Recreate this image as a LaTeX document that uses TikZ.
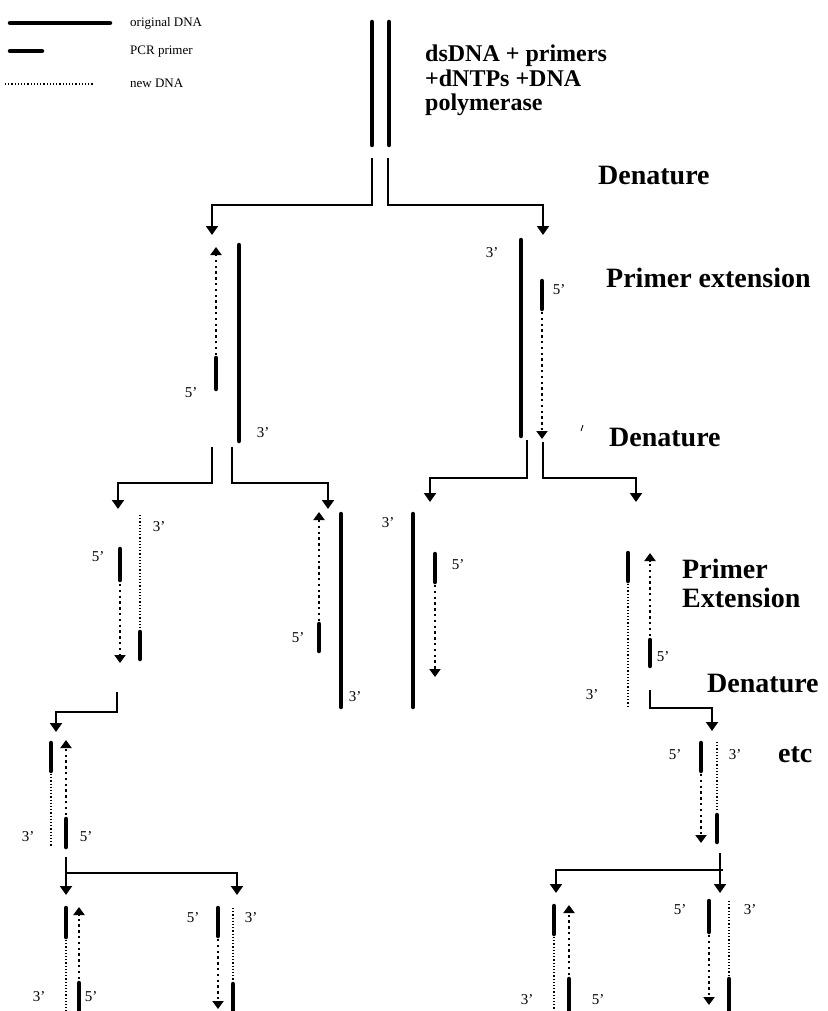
\documentclass[tikz,border=0pt]{standalone}
\usepackage{fontspec}
\setmainfont{Liberation Serif}
\usetikzlibrary{arrows.meta}
\newcommand\steplbl{\fontsize{28}{31}\selectfont\bfseries}
\newcommand\toplbl{\fontsize{24}{27}\selectfont\bfseries}
\newcommand\primelbl{\fontsize{15}{17}\selectfont}
\newcommand\keylbl{\fontsize{13}{15}\selectfont}
\begin{document}
\begin{tikzpicture}[x=1pt,y=-1pt,
  strand/.style={line width=4.5pt, line cap=round},
  primer/.style={line width=4.5pt, line cap=round},
  newdna/.style={line width=1.1pt, dash pattern=on 1.1pt off 2.1pt},
  ext/.style={line width=2.4pt, dash pattern=on 2.4pt off 3.4pt,
    -{Triangle[width=11pt,length=8pt]}},
  conn/.style={line width=2pt, -{Triangle[width=12pt,length=9pt]}},
  txt/.style={inner sep=0pt, anchor=base west},
  tag/.style={inner sep=0pt, font=\primelbl}]
\path[use as bounding box] (0,0) rectangle (827,1011);

% key
\draw[strand] (10,23) -- (110,23);
\draw[primer] (10,51) -- (42,51);
\draw[newdna] (5,84) -- (93,84);
\node[txt, font=\keylbl] (keyA) at (130,27) {original DNA};
\node[txt, font=\keylbl] (keyB) at (130,55) {PCR primer};
\node[txt, font=\keylbl] (keyC) at (130,88) {new DNA};

% starting double strand
\draw[strand] (372,22) -- (372,145);
\draw[strand] (389,22) -- (389,145);
\node[txt, font=\toplbl] (mix1) at (425,62) {dsDNA + primers};
\node[txt, font=\toplbl] (mix2) at (425,87) {+dNTPs +DNA};
\node[txt, font=\toplbl] (mix3) at (425,111) {polymerase};

% step labels
\node[txt, font=\steplbl] (den1) at (598,185) {Denature};
\node[txt, font=\steplbl] (ext1) at (606,287) {Primer extension};
\node[txt, font=\steplbl] (den2) at (609,446) {Denature};
\node[txt, font=\steplbl] (ext2a) at (682,578) {Primer};
\node[txt, font=\steplbl] (ext2b) at (682,607) {Extension};
\node[txt, font=\steplbl] (den3) at (707,692) {Denature};
\node[txt, font=\steplbl] (etc) at (778,762) {etc};
\draw[line width=0.9pt] (581,431) -- (583,425);

% first denaturation
\coordinate (s1a) at (372,158); \coordinate (t1a) at (212,235);
\coordinate (s1b) at (388,158); \coordinate (t1b) at (543,235);
\draw[conn] (s1a) -- ++(0,47) -| (t1a);
\draw[conn] (s1b) -- ++(0,47) -| (t1b);

% first extension, left
\draw[strand] (239,245) -- (239,441);
\draw[primer] (216,358) -- (216,389);
\draw[ext] (216,355) -- (216,247);
\node[tag] (l1a) at (191,393) {5’};
\node[tag] (l1b) at (263,433) {3’};
% first extension, right
\draw[strand] (521,240) -- (521,436);
\draw[primer] (542,281) -- (542,309);
\draw[ext] (542,312) -- (542,439);
\node[tag] (r1a) at (492,253) {3’};
\node[tag] (r1b) at (559,290) {5’};

% second denaturation
\coordinate (s2a) at (212,447); \coordinate (t2a) at (118,509);
\coordinate (s2b) at (232,447); \coordinate (t2b) at (328,509);
\coordinate (s2c) at (527,440); \coordinate (t2c) at (430,502);
\coordinate (s2d) at (543,442); \coordinate (t2d) at (636,502);
\draw[conn] (s2a) -- (s2a |- 0,483) -| (t2a);
\draw[conn] (s2b) -- (s2b |- 0,483) -| (t2b);
\draw[conn] (s2c) -- (s2c |- 0,478) -| (t2c);
\draw[conn] (s2d) -- (s2d |- 0,478) -| (t2d);

% second extension, group 1
\draw[primer] (120,549) -- (120,580);
\draw[ext] (120,584) -- (120,663);
\draw[newdna] (140,515) -- (140,629);
\draw[primer] (140,632) -- (140,659);
\node[tag] (g1a) at (159,527) {3’};
\node[tag] (g1b) at (98,557) {5’};
% group 2
\draw[strand] (341,514) -- (341,707);
\draw[primer] (319,624) -- (319,651);
\draw[ext] (319,621) -- (319,512);
\node[tag] (g2a) at (298,638) {5’};
\node[tag] (g2b) at (355,697) {3’};
% group 3
\draw[strand] (413,514) -- (413,707);
\draw[primer] (435,554) -- (435,582);
\draw[ext] (435,585) -- (435,677);
\node[tag] (g3a) at (388,523) {3’};
\node[tag] (g3b) at (458,565) {5’};
% group 4
\draw[primer] (628,553) -- (628,581);
\draw[newdna] (628,584) -- (628,708);
\draw[ext] (650,636) -- (650,553);
\draw[primer] (650,640) -- (650,666);
\node[tag] (g4a) at (663,657) {5’};
\node[tag] (g4b) at (592,695) {3’};

% third denaturation
\coordinate (s3a) at (117,692); \coordinate (t3a) at (56,732);
\coordinate (s3b) at (650,690); \coordinate (t3b) at (712,731);
\draw[conn] (s3a) -- (s3a |- 0,712) -| (t3a);
\draw[conn] (s3b) -- (s3b |- 0,708) -| (t3b);

% third extension, left
\draw[primer] (51,743) -- (51,771);
\draw[newdna] (51,774) -- (51,847);
\draw[ext] (66,815) -- (66,740);
\draw[primer] (66,819) -- (66,847);
\node[tag] (h1a) at (28,837) {3’};
\node[tag] (h1b) at (86,837) {5’};
% third extension, right
\draw[primer] (701,743) -- (701,771);
\draw[ext] (701,774) -- (701,843);
\draw[newdna] (717,742) -- (717,811);
\draw[primer] (717,815) -- (717,842);
\node[tag] (h2a) at (675,755) {5’};
\node[tag] (h2b) at (735,755) {3’};

% fourth denaturation
\coordinate (s4a) at (66,857); \coordinate (t4a) at (66,895);
\coordinate (j4a) at (66,873); \coordinate (t4b) at (237,895);
\draw[conn] (s4a) -- (t4a);
\draw[conn] (j4a) -| (t4b);
\coordinate (s4c) at (720,853); \coordinate (t4c) at (720,893);
\coordinate (j4c) at (723,870); \coordinate (t4d) at (556,893);
\draw[conn] (s4c) -- (t4c);
\draw[conn] (j4c) -| (t4d);

% fourth extension
\draw[primer] (66,908) -- (66,937);
\draw[newdna] (66,940) -- (66,1011);
\draw[ext] (79,979) -- (79,907);
\draw[primer] (79,983) -- (79,1011);
\node[tag] (k1a) at (39,997) {3’};
\node[tag] (k1b) at (91,997) {5’};

\draw[primer] (218,908) -- (218,936);
\draw[ext] (218,939) -- (218,1009);
\draw[newdna] (233,908) -- (233,981);
\draw[primer] (233,984) -- (233,1011);
\node[tag] (k2a) at (193,918) {5’};
\node[tag] (k2b) at (251,918) {3’};

\draw[primer] (554,906) -- (554,934);
\draw[newdna] (554,937) -- (554,1011);
\draw[ext] (569,975) -- (569,905);
\draw[primer] (569,979) -- (569,1011);
\node[tag] (k3a) at (527,1000) {3’};
\node[tag] (k3b) at (598,1000) {5’};

\draw[primer] (709,901) -- (709,932);
\draw[ext] (709,935) -- (709,1005);
\draw[newdna] (729,901) -- (729,975);
\draw[primer] (729,979) -- (729,1011);
\node[tag] (k4a) at (680,910) {5’};
\node[tag] (k4b) at (750,910) {3’};
\end{tikzpicture}
\end{document}
